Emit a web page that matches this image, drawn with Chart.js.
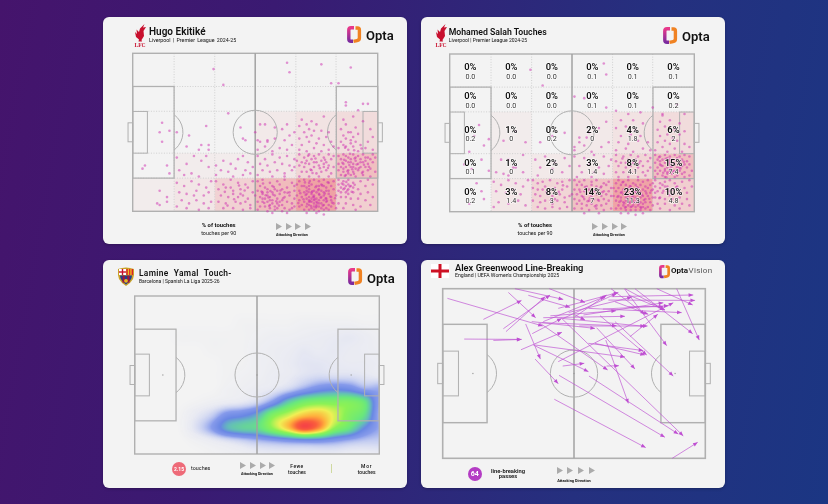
<!DOCTYPE html>
<html><head><meta charset="utf-8">
<script src="https://cdn.jsdelivr.net/npm/chart.js@4"></script>
<style>
html,body{margin:0;padding:0;width:828px;height:504px;overflow:hidden;background:linear-gradient(100deg,#45146c 0%,#3a1a72 30%,#25307f 72%,#1b3683 100%);font-family:Roboto,Arial,sans-serif}
.card{position:absolute;background:#f3f3f3;border-radius:6px;box-shadow:0 1px 3px rgba(0,0,0,.25)}
canvas{position:absolute;left:0;top:0;display:block}
.t{position:absolute;white-space:nowrap;color:#111;line-height:1;transform:translate(0,-50%)}
.c{transform:translate(-50%,-50%)}
svg{position:absolute;overflow:visible}
</style></head><body>
<script>
// Pitch zones (percent of pitch length and width)
const zoneEdgesX=[0,16.9,33.5,50,66.6,83,100];
const zoneEdgesY=[100,79,63.3,36.8,21,0];
// Share of touches per zone, top row first
const ekitikeShare=[[0,0,0,0,0,0],[0,0,0,0,0,0],[0,0,0,2,4,6],[0,1,1,3,8,15],[1,3,9,16,24,10]];
const salahShare=[[0,0,0,0,0,0],[0,0,0,0,0,0],[0,1,0,2,4,6],[0,1,2,3,8,15],[0,3,8,14,23,10]];
const salahPer90=[["0.0","0.0","0.0","0.1","0.1","0.1"],["0.0","0.0","0.0","0.1","0.1","0.2"],["0.2","0","0.2","0","1.8","2"],["0.1","0","0","1.4","4.1","7.4"],["0.2","1.4","3","7","11.3","4.8"]];
// Touch locations as x,y pairs
const ekitikeTouchXY=[63,94,64,88,77,93,89,91,33,90,81,81,37,80,84,81,87,69,87,67,94,68,96,68,92,64,39,62,
12,56,11,50,15,51,18,50,12,44,23,48,22,41,30,54,28,42,31,42,31,39,27,39,5,29,4,27,14,29,15,24,10,5,11,4,14,9,14,6,11,13,
44,53,45,46,46,45,50,50,52,55,54,55,51,45,52,44,55,45,
68,19,70,20,72,18,74,20,76,19,78,20,80,18,82,19,69,16,71,15,73,17,75,16,77,17,79,15,81,16,68,13,70,12,72,14,74,13,76,14,78,12,80,13,82,14,67,10,69,9,71,11,72,9,73,11,74,10,75,8,76,11,77,9,78,10,79,8,80,11,81,9,83,10,68,7,70,6,71,8,72,6,73,8,74,7,74,5,75,6,76,7,77,5,78,7,79,6,80,4,81,7,69,4,71,3,72,4,73,2,74,3,75,4,76,3,77,2,78,4,79,2,81,3,82,5,70,1,72,1,74,1,76,0,78,1,80,1,73,12,75,12,77,13,71,13,79,13,73,6,75,3,72,7,76,5,74,9,70,16,76,16,78,16,72,16,68,3,83,2,67,17,75,-1,71,-1,78,-2,
51,19,53,20,56,18,59,19,62,20,65,18,52,16,54,15,57,16,60,17,63,15,66,16,51,13,53,12,55,14,57,12,59,13,61,14,64,12,66,13,50,10,52,9,53,11,54,8,55,10,56,9,57,7,58,10,59,8,60,11,62,9,64,10,66,8,51,6,53,6,55,6,56,4,57,5,58,3,59,5,60,6,61,4,63,6,65,5,52,3,54,3,56,2,59,2,62,2,64,1,66,3,51,1,55,0,58,1,61,0,55,12,58,14,62,12,53,8,56,7,61,7,65,2,57,-1,63,-1,
84,20,86,19,88,20,90,18,93,19,96,20,84,17,85,15,86,17,87,16,88,14,89,16,90,15,92,14,95,16,98,17,84,13,85,12,87,12,88,11,90,12,93,11,96,12,85,9,87,9,89,8,92,8,95,7,98,9,84,5,87,5,90,4,93,3,97,4,86,2,91,1,86,14,88,17,
34,19,37,17,40,20,43,18,46,17,49,19,35,14,38,15,41,13,44,14,47,15,49,12,36,10,39,9,41,11,43,9,45,10,47,8,35,6,38,5,42,6,44,5,46,6,48,4,37,2,41,2,45,1,48,2,40,15,44,11,
18,18,21,16,24,19,27,17,30,15,32,19,19,12,22,11,26,13,29,10,31,12,20,7,23,5,26,7,29,5,32,6,18,3,22,2,27,1,31,2,25,10,
84,35,86,36,88,34,90,36,92,35,94,36,96,34,98,36,85,33,87,32,89,33,91,32,93,33,95,32,97,33,99,34,84,30,86,30,88,31,90,30,92,30,94,31,96,30,98,31,85,28,87,28,89,28,91,27,93,28,95,28,97,27,84,26,86,25,88,26,90,25,92,26,94,25,96,26,99,25,85,23,87,23,89,23,91,22,94,23,97,22,87,35,89,31,93,31,91,34,86,27,90,28,95,34,88,24,
68,36,70,34,72,36,74,35,76,36,78,34,80,36,82,35,67,32,69,31,71,32,73,33,75,31,77,32,79,31,81,33,68,29,70,28,72,30,74,28,76,29,78,28,80,29,82,28,69,25,71,25,73,26,75,24,77,25,79,26,81,24,68,22,72,22,76,22,80,22,74,31,78,30,
51,35,54,33,57,36,60,34,63,35,66,33,52,30,55,29,58,31,61,30,64,29,66,28,53,26,56,25,59,26,62,24,65,26,51,23,57,22,62,22,
34,29,37,32,40,30,43,33,45,35,47,31,49,28,36,26,39,25,42,27,46,26,48,24,34,23,41,22,45,23,
18,34,22,30,25,35,28,32,31,28,19,26,24,24,27,22,30,35,21,23,
84,40,86,42,88,39,90,41,92,38,95,40,98,39,85,44,87,46,89,45,91,44,93,42,86,48,88,50,90,47,92,49,85,52,87,55,89,50,91,53,96,44,98,47,94,57,90,60,86,58,97,52,89,43,87,41,
68,39,71,38,74,40,77,38,80,39,82,41,69,42,72,44,75,43,78,42,81,44,68,46,71,47,73,48,76,46,79,47,70,50,72,52,74,51,68,54,71,55,75,55,69,58,73,57,77,51,78,60,80,50,
51,39,54,41,57,38,60,40,63,39,65,42,55,44,58,46,62,45,64,48,61,52,66,50,63,55,58,53,
72.4,6.3,73.6,9.2,75.3,5.4,76.7,8.6,71.2,4.7,74.8,2.4,77.6,3.6,78.4,11.2,70.6,10.3,73.3,12.6,75.7,13.4,79.3,6.6,80.6,9.4,69.7,7.6,72.8,3.3,74.2,7.7,76.2,10.4,78.8,8.2,71.8,12.2,81.4,5.5,68.4,11.5,67.6,5.2,82.6,8.3,74.6,15.2,77.3,16.4,72.3,19.2,79.6,18.4,70.3,18.3,
53.7,5.3,55.4,8.7,57.3,10.6,58.6,6.4,56.2,12.8,59.7,3.6,54.3,10.2,61.4,8.3,52.6,12.5,55.7,3.4,63.2,11.7,60.3,13.2,57.6,15.4,53.2,17.6,
86.3,32.6,88.4,29.3,90.6,33.4,92.3,27.2,87.7,25.4,89.6,26.6,91.4,29.6,93.6,24.3,85.6,30.7,94.4,29.5,96.4,28.2,88.7,36.4,90.3,23.7,86.6,22.4,
86.5,14.6,87.6,13.2,88.6,15.7,89.4,12.4,85.4,17.6,90.6,16.8,87.2,18.6,
70.5,30.4,72.6,26.4,74.6,33.4,76.4,27.3,78.5,32.6,73.4,24.2,79.7,27.4,71.6,35.2,
41.4,7.6,37.6,12.3,45.7,13.2,38.7,3.6,43.4,16.3,86.7,40.3,90.4,38.6,93.4,39.7];
const salahTouchXY=[63,94,64,87,33,90,38,80,51,73,55,72,64,66,68,64,73,62,78,63,83,66,87,62,93,68,96,62,12,55,10,48,16,46,14,42,8,38,22,45,27,51,31,44,
6,30,9,27,13,33,16,26,11,18,14,8,8,5,13,13,24,33,27,28,22,24,30,36,37,44,42,48,47,50,51,41,56,47,53,44,
69,20,71,19,73,20,75,18,77,20,79,19,81,20,83,18,68,18,70,17,72,17,74,16,76,17,78,17,80,16,82,17,67,15,69,15,71,14,73,15,75,14,77,15,79,14,81,15,83,14,68,13,70,12,72,13,74,12,76,13,78,12,80,13,82,12,67,10,69,10,70,9,71,11,72,9,73,10,74,8,75,10,76,9,77,11,78,9,79,10,80,8,81,10,83,9,68,7,70,7,71,6,72,7,73,6,74,6,75,7,76,6,77,7,78,6,79,5,80,6,82,6,69,4,71,4,72,3,73,4,74,3,75,4,76,3,77,4,78,3,79,3,81,3,83,4,68,2,70,2,72,1,74,1,76,1,78,1,80,2,82,1,73,-1,76,-2,79,-1,70,-1,
51,20,53,19,55,20,58,19,60,20,63,18,65,19,52,17,54,17,56,16,58,17,60,16,62,16,64,17,66,15,51,14,53,14,55,13,57,14,59,13,61,14,63,13,65,13,50,11,52,11,54,10,56,11,58,10,60,11,62,10,64,11,66,10,51,8,53,7,55,8,57,7,59,8,61,7,63,8,65,7,52,5,54,5,56,4,58,5,60,4,62,4,64,5,51,2,54,2,57,1,60,2,63,1,66,2,55,-1,61,-1,
84,20,86,18,88,19,90,20,92,18,95,19,98,20,84,16,86,15,87,17,89,16,91,14,93,16,96,15,99,16,85,13,87,12,89,13,91,11,94,12,97,12,84,9,86,9,88,8,91,8,94,9,97,8,85,5,88,5,92,4,95,5,98,4,86,2,90,1,94,2,84,12,88,16,90,13,
34,20,36,18,38,19,41,20,44,18,46,19,49,20,34,15,36,14,39,16,41,14,43,15,46,14,48,16,35,11,37,10,40,11,42,10,45,11,47,9,49,10,34,7,37,6,39,7,42,5,44,7,47,6,36,3,39,2,42,3,45,2,48,3,38,14,43,8,
18,19,21,17,24,20,27,18,30,16,32,20,19,13,23,12,26,14,29,11,20,6,24,5,28,7,31,4,18,3,
84,36,86,35,88,36,90,35,92,36,94,35,96,36,98,35,85,33,87,33,89,34,91,33,93,34,95,33,97,32,84,31,86,30,88,31,90,30,91,31,92,30,94,31,96,30,98,30,85,28,87,29,89,28,90,27,91,29,93,28,95,29,97,28,84,26,86,26,88,26,89,25,90,26,92,26,94,26,96,25,99,26,85,24,87,23,89,24,91,24,93,23,95,24,98,23,84,22,88,22,92,22,96,22,86,32,90,33,94,28,88,27,
68,36,71,35,74,36,77,35,80,36,82,34,68,32,70,31,73,33,75,31,78,32,81,32,69,29,72,28,74,29,77,28,79,29,82,28,68,25,71,25,74,25,76,26,79,25,81,26,69,22,73,22,77,22,80,23,72,31,76,33,
51,35,55,34,59,36,63,35,66,33,53,29,57,30,61,28,65,29,54,25,59,25,63,24,52,22,58,22,
35,33,39,35,43,31,47,34,37,28,42,27,46,25,49,29,36,23,
21,33,26,28,30,25,19,25,24,23,
84,39,87,41,89,38,92,40,95,38,98,41,85,44,88,45,90,43,93,45,96,43,86,48,89,49,91,47,94,49,85,52,88,54,92,52,96,51,86,57,90,58,94,56,87,61,
68,39,72,40,75,38,79,40,82,39,69,44,73,43,77,45,81,44,70,48,74,49,78,48,68,53,72,54,76,52,70,58,75,58,79,56,
51,39,55,42,58,38,62,41,65,44,53,47,57,50,61,53,64,57,
73.4,5.6,74.6,9.3,75.7,12.3,76.3,7.8,72.6,8.4,71.4,5.4,77.4,5.2,78.6,10.7,79.4,7.4,74.4,3.3,70.3,12.4,73.7,16.3,76.6,15.4,80.4,11.6,68.6,9.4,72.3,11.7,75.4,5.6,77.7,12.6,71.7,2.6,74.7,13.6,78.2,2.4,81.6,8.2,69.4,6.2,82.4,13.4,70.7,18.6,
54.6,9.3,56.4,6.7,58.3,12.2,60.6,7.5,62.4,12.3,53.4,12.6,57.3,8.6,59.4,3.4,55.3,15.6,61.7,15.3,
86.4,29.4,88.3,33.6,90.6,28.5,92.4,32.4,94.4,27.4,87.3,24.7,89.6,31.3,91.3,25.6,93.7,30.6,85.6,34.6,95.7,31.6,88.6,21.8,
87.4,13.3,89.7,10.4,85.7,8.6,92.6,15.4,39.6,12.3,44.6,12.6,41.3,7.4,46.3,16.7,73.3,29.3,70.6,33.7,77.4,30.6];
// Touch density sampled on a grid: columns every 6.25% of length, rows every 8.33% of width from the bottom touchline
const yamalHeatRows=[
[0,0,0,0,0,.01,.02,.03,.05,.06,.06,.06,.06,.06,.05,.05,.06],
[0,0,0,0,.02,.05,.09,.13,.17,.2,.23,.25,.25,.22,.18,.15,.14],
[0,0,0,.01,.1,.22,.38,.44,.47,.62,.78,.96,.86,.62,.5,.32,.2],
[0,0,0,.01,.07,.14,.26,.3,.38,.58,.68,.78,.8,.7,.58,.48,.18],
[0,0,0,0,.01,.03,.05,.07,.12,.24,.42,.54,.58,.58,.58,.5,.2],
[0,0,0,0,0,0,.02,.03,.05,.07,.12,.2,.27,.3,.28,.2,.2],
[0,0,0,0,0,0,.01,.02,.03,.05,.06,.09,.11,.1,.1,.08,.06],
[0,0,0,0,0,0,.01,.01,.03,.04,.06,.08,.08,.07,.06,.06,.05],
[0,0,0,0,0,.01,.01,.01,.03,.04,.05,.07,.06,.07,.06,.05,.04],
[0,0,0,.01,.01,.01,.01,.01,.02,.03,.03,.04,.05,.06,.07,.05,.03],
[0,0,0,0,0,0,0,.01,.01,.01,.01,.02,.02,.02,.02,.01,.01],
[0,0,0,0,0,0,0,0,0,0,0,0,0,0,0,0,0],
[0,0,0,0,0,0,0,0,0,0,0,0,0,0,0,0,0]];
// Line-breaking passes: startX,startY,endX,endY
const greenwoodPasses=[
1.8,94.3,38.1,78,15.5,81.9,30,93.1,25,97.8,35.4,82.9,23.1,76.4,40.9,96.3,24.1,74.7,39,95.3,
27.5,100,45.9,93.7,32.6,96.1,48.5,89,40.6,100,54.2,91.9,8.2,70.3,30,70.1,19.3,69.5,30,70.1,
31.6,79.2,37.2,58.5,29.8,64,45.4,74.3,34.1,73.5,45.3,82.5,37.1,79.6,62.8,52.1,35.2,58.5,44,44,
34.5,66.8,55.5,51.1,35.2,66.8,69.4,59.7,44,57,87.8,91.7,45.7,54.4,53.9,56,44.3,48.9,84.6,12.4,
42.5,34.8,77.3,6.3,55.7,48.5,89.7,14.3,45.3,82.5,91.6,13.2,62.1,69.7,70.7,32.4,62.4,54.4,67.1,54.6,
55.5,67.8,76.4,63.5,58.6,77,73.2,52.7,65.6,80.6,87.8,48.5,71.3,71.7,81.9,84.9,87.4,0,97.1,9.4,
89.1,100,97.7,69.7,81.5,100,95.2,90.4,73.2,100,95.2,73.5,69.2,100,85.3,66.4,64.1,100,77,84.9,
69.4,100,84.6,87.4,64.3,95.3,95.4,96.3,38.3,82.9,69.4,83.7,37.7,80,66.2,78.2,45.3,82.5,77,77.8,
33.9,80.6,58,76.6,44,88.4,66.9,97.8,50.4,83.5,62.4,96.3,53.6,84.5,84,91.7,55.5,88.4,91,85.9,
63.1,93.3,96.1,93.1,70.7,96.3,84.6,87.4,59.9,84.1,77.7,60.9,50.4,84.5,54.2,81.5,65.6,92.3,78.3,84.9,
45.9,82.5,66.2,97.2,38.3,80.6,61.8,95.3,58,67.8,77,60.9,70.7,89.4,84,89.4,48,86,72,95,
41,84,66,87,52,78,78,78,61,88,86,90];
const footerTriangles=[0,1,2,3];
const P={line:'#b0b0b0',dot:'rgba(205,45,175,.5)'};

function make(tag,cls,css,txt){const e=document.createElement(tag);if(cls)e.className=cls;Object.assign(e.style,css);if(txt!=null)e.textContent=txt;document.body.appendChild(e);return e}
function text(x,y,s,size,weight,center,extra){return make('div','t'+(center?' c':''),Object.assign({left:x+'px',top:y+'px',fontSize:size+'px',fontWeight:weight},extra||{}),s)}
function svg(x,y,w,h,inner){const d=document.createElement('div');d.innerHTML=`<svg style="left:${x}px;top:${y}px" width="${w}" height="${h}" viewBox="0 0 ${w} ${h}">${inner}</svg>`;document.body.appendChild(d.firstChild)}
function optaIcon(x,y,s){svg(x,y,14*s,17*s,`<g transform="scale(${s})" fill="none" stroke-width="3.4"><defs><linearGradient id="g${x}" x1="0" y1="0" x2="0" y2="1"><stop offset="0" stop-color="#e8388a"/><stop offset="1" stop-color="#7a2a9e"/></linearGradient></defs><path d="M7 1.7H4Q1.8 1.7 1.8 4V13Q1.8 15.3 4 15.3H6" stroke="url(#g${x})"/><path d="M8.5 2H10.5Q12.4 2 12.4 4V12Q12.4 14.2 10 14.6L6.5 15.3" stroke="#f08222"/></g>`)}
function triangles(x,y,step,w,h){footerTriangles.forEach(i=>svg(x+i*step,y-h/2,w,h,`<polygon points="0,0 ${w},${h/2} 0,${h}" fill="#ababab"/>`))}
function liver(x,y){svg(x,y,13,23,`<path d="M10.5 0 L9 3.5 L12 3 L9.5 7 L10 12 L7.5 16 L8 17.5 L4.5 17.5 L5 15.5 L2 13 L1 8 L3 10 L2.5 5.5 L5 8 L6 4.5 Z" fill="#c8102e"/><text x="6" y="22.6" font-size="5.6" font-weight="700" text-anchor="middle" fill="#c8102e" font-family="Liberation Serif">LFC</text>`)}

function pair(a){const o=[];for(let i=0;i+1<a.length;i+=2)o.push({x:a[i],y:a[i+1]});return o}

const pitchPlugin={id:'pitch',beforeDatasetsDraw(ch){
  const s=ch.$spec;if(!s)return;
  const c=ch.ctx,X=v=>ch.scales.x.getPixelForValue(v),Y=v=>ch.scales.y.getPixelForValue(v);
  c.save();
  if(s.share){s.share.forEach((row,r)=>row.forEach((v,k)=>{if(!v)return;c.fillStyle=`rgba(235,92,96,${Math.min(.62,.02+v/23*.5)})`;c.fillRect(X(zoneEdgesX[k]),Y(zoneEdgesY[r]),X(zoneEdgesX[k+1])-X(zoneEdgesX[k]),Y(zoneEdgesY[r+1])-Y(zoneEdgesY[r]))}))}
  if(s.heat)drawHeat(ch,c);
  if(s.grid){c.strokeStyle='#cfcfcf';c.lineWidth=1;c.setLineDash([1,1.6]);
    [16.9,33.5,66.6,83].forEach(v=>{c.beginPath();c.moveTo(X(v),Y(100));c.lineTo(X(v),Y(0));c.stroke()});
    [79,63.3,36.8,21].forEach(v=>{c.beginPath();c.moveTo(X(0),Y(v));c.lineTo(X(100),Y(v));c.stroke()});c.setLineDash([])}
  c.strokeStyle=P.line;c.lineWidth=1;
  const rect=(a,b,d,e)=>c.strokeRect(X(a),Y(e),X(d)-X(a),Y(b)-Y(e));
  const w=s.lw||1.4;
  c.lineWidth=w;rect(0,0,100,100);
  c.lineWidth=1.5;c.strokeStyle='#a2a2a2';c.beginPath();c.moveTo(X(50),Y(100));c.lineTo(X(50),Y(0));c.stroke();c.strokeStyle=P.line;
  c.lineWidth=w*.9;rect(0,21,16.9,79);rect(83.1,21,100,79);
  c.lineWidth=1;rect(0,36.8,6,63.2);rect(94,36.8,100,63.2);rect(-1.9,44,0,56);rect(100,44,101.9,56);
  const r=X(9)-X(0);
  c.beginPath();c.arc(X(50),Y(50),r,0,7);c.stroke();
  const a=Math.acos((X(16.9)-X(11.5))/r);
  c.beginPath();c.arc(X(11.5),Y(50),r,-a,a);c.stroke();
  c.beginPath();c.arc(X(88.5),Y(50),r,Math.PI-a,Math.PI+a);c.stroke();
  if(s.spots){c.fillStyle='#999';[11.5,50,88.5].forEach(v=>c.fillRect(X(v)-.6,Y(50)-.6,1.2,1.2))}
  c.restore();
},afterDatasetsDraw(ch){
  const s=ch.$spec;if(!s)return;
  const c=ch.ctx,X=v=>ch.scales.x.getPixelForValue(v),Y=v=>ch.scales.y.getPixelForValue(v);
  if(s.labels){c.save();c.textAlign='center';c.textBaseline='middle';c.lineJoin='round';
    s.share.forEach((row,r)=>row.forEach((v,k)=>{
      const mx=(X(zoneEdgesX[k])+X(zoneEdgesX[k+1]))/2,my=(Y(zoneEdgesY[r])+Y(zoneEdgesY[r+1]))/2;
      c.fillStyle='#111';c.font='600 9.4px Roboto';c.strokeStyle='rgba(255,255,255,.7)';c.lineWidth=1.5;
      c.strokeText(v+'%',mx,my-2.5);c.fillText(v+'%',mx,my-2.5);
      c.font='400 7.2px Roboto';c.fillStyle='#333';c.strokeText(s.labels[r][k],mx,my+6.5);c.fillText(s.labels[r][k],mx,my+6.5);
    }));c.restore()}
  if(s.arrows){c.save();c.fillStyle='#bf4fd2';ch.data.datasets.forEach((d,i)=>{const m=ch.getDatasetMeta(i).data;if(m.length<2)return;
    const a=m[0],b=m[1],t=Math.atan2(b.y-a.y,b.x-a.x),L=4.6,H=1.9;
    c.beginPath();c.moveTo(b.x,b.y);c.lineTo(b.x-L*Math.cos(t)-H*Math.sin(t),b.y-L*Math.sin(t)+H*Math.cos(t));c.lineTo(b.x-L*Math.cos(t)+H*Math.sin(t),b.y-L*Math.sin(t)-H*Math.cos(t));c.closePath();c.fill()});c.restore()}
}};

const heatStops=[[0,205,210,240,0],[.06,212,216,242,.3],[.14,185,196,240,.75],[.22,135,155,235,1],[.32,105,135,228,1],[.4,100,190,185,1],[.5,105,232,125,1],[.62,140,242,85,1],[.72,240,240,85,1],[.82,255,175,60,1],[.92,250,95,60,1],[1,244,62,72,1]];
function heatColor(v){v=Math.max(0,Math.min(1,v));for(let i=1;i<heatStops.length;i++){const a=heatStops[i-1],b=heatStops[i];if(v<=b[0]){const t=(v-a[0])/(b[0]-a[0]);return [a[1]+(b[1]-a[1])*t,a[2]+(b[2]-a[2])*t,a[3]+(b[3]-a[3])*t,(a[4]+(b[4]-a[4])*t)*255]}}return [244,62,72,255]}
function cr(a,b,c,d,t){return b+.5*t*(c-a+t*(2*a-5*b+4*c-d+t*(3*(b-c)+d-a)))}
function drawHeat(ch,c){
  const pts=ch.getDatasetMeta(0).data,cols=yamalHeatRows[0].length,rows=yamalHeatRows.length;
  const x0=pts[0].x,dx=pts[1].x-pts[0].x,y0=pts[0].y,dy=pts[cols].y-pts[0].y;
  const A=ch.chartArea,w=Math.round(A.right-A.left),h=Math.round(A.bottom-A.top);
  const off=document.createElement('canvas');off.width=w;off.height=h;const oc=off.getContext('2d'),im=oc.createImageData(w,h);
  const V=(r,k)=>yamalHeatRows[Math.max(0,Math.min(rows-1,r))][Math.max(0,Math.min(cols-1,k))];
  for(let py=0;py<h;py++){const v=(py+A.top-y0)/dy,r=Math.floor(v),tr=v-r;
    for(let px=0;px<w;px++){const u=(px+A.left-x0)/dx,k=Math.floor(u),tk=u-k;
      const q=[-1,0,1,2].map(e=>cr(V(r+e,k-1),V(r+e,k),V(r+e,k+1),V(r+e,k+2),tk));
      const col=heatColor(cr(q[0],q[1],q[2],q[3],tr)),i=(py*w+px)*4;
      im.data[i]=col[0];im.data[i+1]=col[1];im.data[i+2]=col[2];im.data[i+3]=col[3]}}
  oc.putImageData(im,0,0);c.drawImage(off,A.left,A.top);
}

function build(card,pitch,datasets,spec){
  make('div','card',{left:card[0]+'px',top:card[1]+'px',width:card[2]+'px',height:card[3]+'px'});
  const holder=make('div','',{position:'absolute',left:card[0]+'px',top:card[1]+'px',width:card[2]+'px',height:card[3]+'px'});
  const cv=document.createElement('canvas');cv.width=card[2];cv.height=card[3];cv.style.width=card[2]+'px';cv.style.height=card[3]+'px';holder.appendChild(cv);
  const ch=new Chart(cv,{type:'scatter',data:{datasets},plugins:[pitchPlugin],options:{responsive:false,animation:false,devicePixelRatio:1,events:[],
    layout:{padding:{left:pitch[0]-card[0],top:pitch[1]-card[1],right:card[0]+card[2]-pitch[2],bottom:card[1]+card[3]-pitch[3]}},
    plugins:{legend:{display:false},tooltip:{enabled:false},title:{display:false}},
    scales:{x:{type:'linear',min:0,max:100,display:false},y:{type:'linear',min:0,max:100,display:false}}}});
  ch.$spec=spec;ch.update('none');return ch;
}
const dots=a=>({label:'touches',data:pair(a),pointRadius:1.3,pointBorderWidth:0,pointBackgroundColor:P.dot,clip:false});

// 1. Ekitike
build([103,17,304,227],[132.7,53.3,377.7,211.3],[dots(ekitikeTouchXY)],{share:ekitikeShare,grid:true});
liver(134,24);
text(149,32,'Hugo Ekitiké',10,600);
text(149,41,'Liverpool | Premier League 2024-25',5.3,400,false,{wordSpacing:'1px'});
optaIcon(347,26,1);text(366,35,'Opta',13,600);
text(218.7,226,'% of touches',5.9,700,true);text(218.7,234,'touches per 90',5.3,400,true);
triangles(275.7,226,9.8,6,7);text(292,235.7,'Attacking Direction',3.7,700,true);

// 2. Salah
build([421,17,304,227],[449.7,54,694.3,211.7],[dots(salahTouchXY)],{share:salahShare,grid:true,labels:salahPer90});
liver(435,24);
text(448.7,31.5,'Mohamed Salah Touches',8.7,600);
text(448.7,39.5,'Liverpool | Premier League 2024-25',5,400);
optaIcon(663,26.5,1);text(682,36,'Opta',13,600);
text(535,226,'% of touches',5.9,700,true);text(535,234,'touches per 90',5.3,400,true);
triangles(592,226,9.8,6,7);text(609,235.7,'Attacking Direction',3.7,700,true);

// 3. Yamal
const heatPoints=[];yamalHeatRows.forEach((row,r)=>row.forEach((v,k)=>heatPoints.push({x:k*6.25,y:r*8.333,v})));
build([103,260,304,228],[134.7,296,379.3,454],[{label:'density',data:heatPoints,pointRadius:0,clip:false}],{heat:true,spots:true});
svg(117,267,18,19,`<path d="M1 2 Q9 -1 17 2 Q17.5 8 16 12 Q13 17 9 19 Q5 17 2 12 Q.5 8 1 2Z" fill="#c9a227"/><rect x="2" y="2" width="7" height="6" fill="#fff"/><rect x="4.8" y="2" width="1.4" height="6" fill="#c8102e"/><rect x="2" y="4.3" width="7" height="1.4" fill="#c8102e"/><rect x="9.4" y="2" width="6.6" height="6" fill="#d9202f"/><rect x="10.8" y="2" width="1.3" height="6" fill="#f0c020"/><rect x="13.3" y="2" width="1.3" height="6" fill="#f0c020"/><path d="M3 8.6H15Q15 13 9 17.6Q3 13 3 8.6Z" fill="#1f3f8f"/><rect x="5.5" y="8.6" width="2.2" height="7" fill="#a3123a"/><rect x="10.3" y="8.6" width="2.2" height="7" fill="#a3123a"/><circle cx="9" cy="13.8" r="1.9" fill="#e8b820"/>`);
text(139,273,'Lamine Yamal Touch-',8.4,600,false,{wordSpacing:'3px',letterSpacing:'.3px'});
text(139,281,'Barcelona | Spanish La Liga 2025-26',5,400);
optaIcon(348,268,1);text(367,278,'Opta',13,600);
make('div','',{position:'absolute',left:'172px',top:'462px',width:'14px',height:'14px',borderRadius:'50%',background:'#ee6a78'});
text(179,469,'2.15',5,700,true,{color:'#fff'});
text(200.7,469,'touches',5.4,400,true);
triangles(240,465,9.8,6,7);text(257,475,'Attacking Direction',3.7,700,true);
text(297,465.7,'Fewe',5,500,true,{letterSpacing:'.4px'});text(297,472.3,'touches',5,500,true);
make('div','',{position:'absolute',left:'331px',top:'464px',width:'1px',height:'9px',background:'#cfd9a0'});
text(366.7,465.7,'Mor',5,500,true,{letterSpacing:'.8px'});text(366.7,472.3,'touches',5,500,true);

// 4. Greenwood
const passDatasets=[];for(let i=0;i+3<greenwoodPasses.length;i+=4){passDatasets.push({label:'pass',data:[{x:greenwoodPasses[i],y:greenwoodPasses[i+1]},{x:greenwoodPasses[i+2],y:greenwoodPasses[i+3]}],showLine:true,borderColor:'rgba(190,80,210,.75)',borderWidth:.9,pointRadius:0,clip:false})}
build([421,260,304,228],[442.7,288.7,705.3,458.3],passDatasets,{arrows:true,spots:true,lw:1.6});
svg(431,264,18,14,`<rect width="18" height="14" fill="#fff"/><rect x="7.5" width="3" height="14" fill="#ce1124"/><rect y="5.5" width="18" height="3" fill="#ce1124"/>`);
text(455,268,'Alex Greenwood Line-Breaking',9.3,600);
text(455,276,'England | UEFA Women\'s Championship 2025',5.2,400);
optaIcon(658.5,264.5,.78);text(671,271,'Opta',8,700);text(688.5,271,'Vision',8,400,false,{color:'#555',letterSpacing:'.3px'});
make('div','',{position:'absolute',left:'467.5px',top:'466.5px',width:'14.5px',height:'14.5px',borderRadius:'50%',background:'#b43cc4'});
text(474.7,473.7,'64',7,700,true,{color:'#fff'});
text(508,471.7,'line-breaking',5.8,600,true);text(508,477.3,'passes',5.8,600,true);
triangles(556.7,470.7,10.6,6,7);text(574,481,'Attacking Direction',3.9,700,true);
</script>
</body></html>
